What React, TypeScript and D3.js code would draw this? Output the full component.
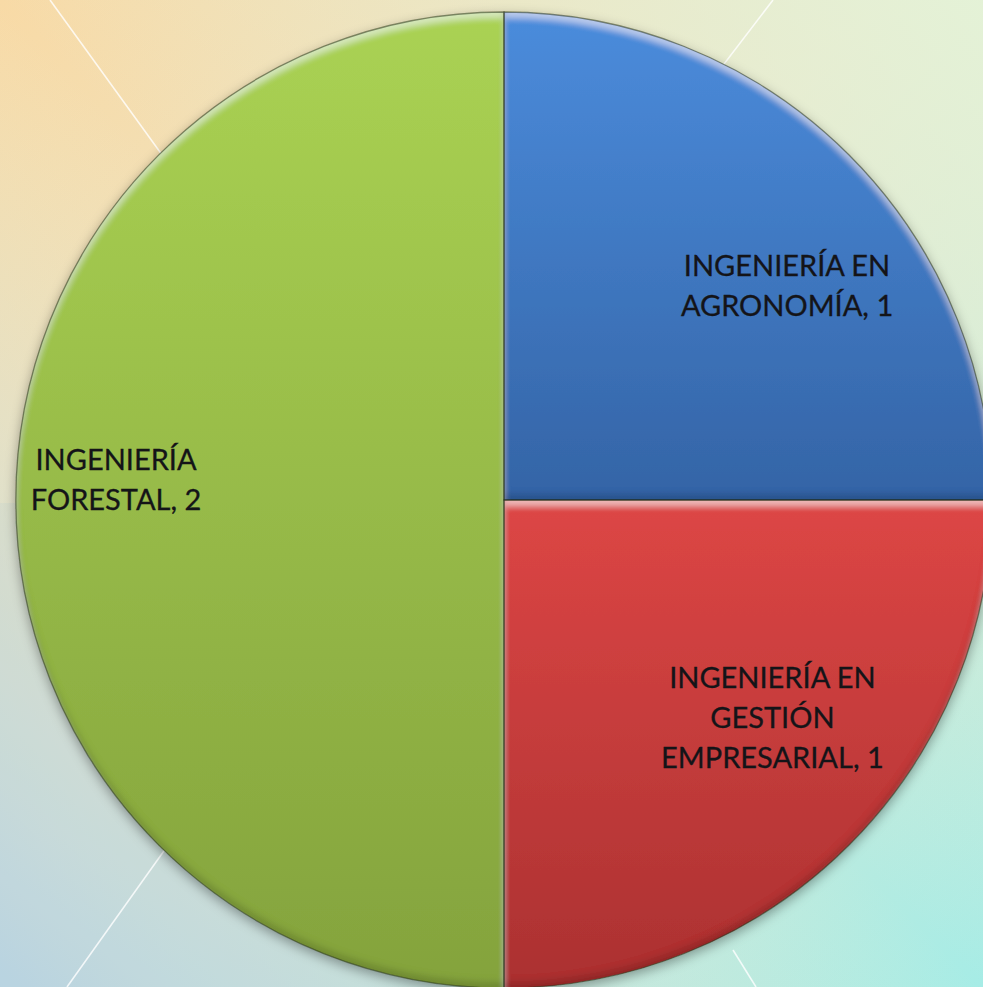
import React from "react";
import * as d3 from "d3";

const categories = ["INGENIERÍA EN AGRONOMÍA", "INGENIERÍA EN GESTIÓN EMPRESARIAL", "INGENIERÍA FORESTAL"];
const values = [1, 1, 2];
const labelLines = [
  ["INGENIERÍA EN", "AGRONOMÍA, 1"],
  ["INGENIERÍA EN", "GESTIÓN", "EMPRESARIAL, 1"],
  ["INGENIERÍA", "FORESTAL, 2"],
];
const topColors = ["#4b8cdc", "#dd4645", "#aad253"];
const bottomColors = ["#3464a6", "#ab3131", "#84a33d"];

const W = 983;
const H = 987;
const cx = 504;
const cy = 500;
const R = 488;
// label anchor offsets (fractions of radius) relative to center
const labelPos: [number, number][] = [
  [0.58, -0.443],
  [0.55, 0.443],
  [-0.795, -0.045],
];

export default function App() {
  const pie = d3.pie<number>().sort(null).value((d) => d)(values);
  const arc = d3.arc<d3.PieArcDatum<number>>().innerRadius(0).outerRadius(R);
  const lineH = 40;
  return (
    <svg width={W} height={H} style={{ position: "absolute", left: 0, top: 0 }}>
      <defs>
        <linearGradient id="bg1" x1="0" y1="0" x2="1" y2="1">
          <stop offset="0" stopColor="#f8daa6" />
          <stop offset="0.45" stopColor="#ebe6c8" />
          <stop offset="0.75" stopColor="#c6eadb" />
          <stop offset="1" stopColor="#a6ece6" />
        </linearGradient>
        <linearGradient id="bg2" x1="1" y1="0" x2="0" y2="1">
          <stop offset="0" stopColor="#e4f3d8" stopOpacity="0.9" />
          <stop offset="0.5" stopColor="#e4ecd4" stopOpacity="0" />
          <stop offset="1" stopColor="#b8d4e6" stopOpacity="0.9" />
        </linearGradient>
        {topColors.map((c, i) => (
          <linearGradient key={i} id={`sg${i}`} x1="0" y1="0" x2="0" y2="1">
            <stop offset="0" stopColor={c} />
            <stop offset="1" stopColor={bottomColors[i]} />
          </linearGradient>
        ))}
        <filter id="bevel" x="-5%" y="-5%" width="110%" height="110%">
          <feGaussianBlur in="SourceAlpha" stdDeviation="3" result="blur" />
          <feOffset in="blur" dx="0" dy="6" result="offDown" />
          <feComposite in="SourceAlpha" in2="offDown" operator="out" result="topEdge" />
          <feFlood floodColor="#ffffff" floodOpacity="0.45" />
          <feComposite in2="topEdge" operator="in" result="hl" />
          <feOffset in="blur" dx="0" dy="-6" result="offUp" />
          <feComposite in="SourceAlpha" in2="offUp" operator="out" result="botEdge" />
          <feFlood floodColor="#000000" floodOpacity="0.3" />
          <feComposite in2="botEdge" operator="in" result="sh" />
          <feMerge>
            <feMergeNode in="SourceGraphic" />
            <feMergeNode in="hl" />
            <feMergeNode in="sh" />
          </feMerge>
        </filter>
        <filter id="shadow" x="-10%" y="-10%" width="120%" height="120%">
          <feDropShadow dx="0" dy="4" stdDeviation="6" floodColor="#000" floodOpacity="0.35" />
        </filter>
      </defs>
      <rect x={0} y={0} width={W} height={H} fill="url(#bg1)" />
      <rect x={0} y={0} width={W} height={H} fill="url(#bg2)" />
      <rect x={0} y={503} width={cx} height={H - 503} fill="#9fc4d8" opacity={0.12} />
      <g stroke="#ffffff" strokeOpacity={0.8} strokeWidth={1.6}>
        <line x1={50} y1={0} x2={330} y2={387} />
        <line x1={67} y1={987} x2={300} y2={660} />
        <line x1={773} y1={0} x2={620} y2={200} />
        <line x1={733} y1={950} x2={756} y2={987} />
      </g>
      <g filter="url(#shadow)">
        {pie.map((p, i) => (
          <path
            key={i}
            d={arc(p) || ""}
            transform={`translate(${cx},${cy})`}
            fill={`url(#sg${i})`}
            filter="url(#bevel)"
          />
        ))}
        {pie.map((p, i) => (
          <path
            key={"s" + i}
            d={arc(p) || ""}
            transform={`translate(${cx},${cy})`}
            fill="none"
            stroke="#1e2a10"
            strokeOpacity={0.5}
            strokeWidth={1.3}
          />
        ))}
      </g>
      {labelLines.map((lines, i) => {
        const x = cx + labelPos[i][0] * R;
        const y0 = cy + labelPos[i][1] * R - ((lines.length - 1) * lineH) / 2;
        return (
          <text
            key={i}
            x={x}
            y={y0}
            textAnchor="middle"
            fontFamily="Lato, 'Open Sans', sans-serif"
            fontSize={29}
            fill="#141418"
            stroke="#141418"
            strokeWidth={0.3}
            dominantBaseline="central"
          >
            {lines.map((l, j) => (
              <tspan key={j} x={x} y={y0 + j * lineH}>
                {l}
              </tspan>
            ))}
          </text>
        );
      })}
    </svg>
  );
}
